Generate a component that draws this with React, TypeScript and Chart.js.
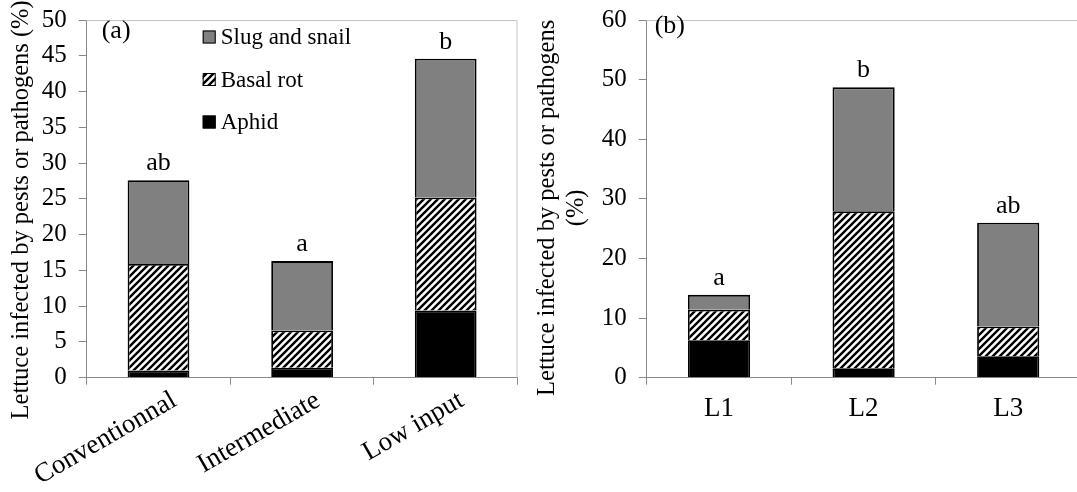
import React, { useEffect, useRef } from "react";
import { Chart, registerables } from "chart.js";

Chart.register(...registerables);

// ---------------- Data ----------------
const categoriesA = ["Conventionnal", "Intermediate", "Low input"];
const aphidA = [1.0, 1.4, 9.4];
const basalRotA = [14.9, 5.2, 15.8];
const slugSnailA = [11.7, 9.7, 19.4];
const lettersA = ["ab", "a", "b"];
const yMaxA = 50;
const yStepA = 5;

const categoriesB = ["L1", "L2", "L3"];
const aphidB = [6.3, 1.6, 3.6];
const basalRotB = [5.1, 26.3, 5.0];
const slugSnailB = [2.5, 20.8, 17.4];
const lettersB = ["a", "b", "ab"];
const yMaxB = 60;
const yStepB = 10;

const seriesNames = ["Aphid", "Basal rot", "Slug and snail"];
const yTitleA = ["Lettuce infected by pests or pathogens (%)"];
const yTitleB = ["Lettuce infected by pests or pathogens", "(%)"];

// ---------------- Styles ----------------
const FONT = "'Liberation Serif', 'Times New Roman', Times, serif";
const AXIS_GRAY = "#898989";
const FRAME_GRAY = "#c4c4c4";
const LEGEND_SIZE = 23;
const TITLE_SIZE = 24.5;
const TICK_SIZE = 25;
const XLABEL_SIZE = 27;
const LETTER_SIZE = 26;

function makeHatch(): CanvasPattern | string {
  const size = 7;
  const c = document.createElement("canvas");
  c.width = size;
  c.height = size;
  const g = c.getContext("2d");
  if (!g) return "#888";
  g.fillStyle = "#ffffff";
  g.fillRect(0, 0, size, size);
  g.strokeStyle = "#000000";
  g.lineWidth = 2.4;
  g.beginPath();
  g.moveTo(-2, size + 2);
  g.lineTo(size + 2, -2);
  g.moveTo(-2, 2);
  g.lineTo(2, -2);
  g.moveTo(size - 2, size + 2);
  g.lineTo(size + 2, size - 2);
  g.stroke();
  return g.createPattern(c, "repeat") || "#888";
}

type PanelOpts = {
  categories: string[];
  aphid: number[];
  basal: number[];
  slug: number[];
  letters: string[];
  yMax: number;
  yStep: number;
  yTitle: string[];
  titleX: number;
  titleGap: number;
  titleDy: number;
  yWidth: number;
  xHeight: number;
  padRight: number;
  rotate: number;
  xPad: number;
  xLabelOffset: number;
  panelLabel: string;
  panelDx: number;
  panelDy: number;
  legend: boolean;
};

function extrasPlugin(p: PanelOpts) {
  return {
    id: "extras",
    afterDatasetsDraw(chart: any) {
      const { ctx, chartArea } = chart;
      ctx.save();
      // plot frame (top & right)
      ctx.strokeStyle = FRAME_GRAY;
      ctx.lineWidth = 1;
      ctx.beginPath();
      ctx.moveTo(chartArea.left, chartArea.top + 0.5);
      ctx.lineTo(chartArea.right - 0.5, chartArea.top + 0.5);
      ctx.lineTo(chartArea.right - 0.5, chartArea.bottom);
      ctx.stroke();

      // significance letters above stacked bars
      const ds = chart.data.datasets;
      const topMeta = chart.getDatasetMeta(ds.length - 1);
      ctx.fillStyle = "#000";
      ctx.font = `${LETTER_SIZE}px ${FONT}`;
      ctx.textAlign = "center";
      ctx.textBaseline = "alphabetic";
      topMeta.data.forEach((el: any, i: number) => {
        ctx.fillText(p.letters[i], el.x, el.y - 10);
      });

      // panel label
      ctx.textAlign = "left";
      ctx.textBaseline = "middle";
      ctx.font = `${LETTER_SIZE}px ${FONT}`;
      ctx.fillText(p.panelLabel, chartArea.left + p.panelDx, chartArea.top + p.panelDy);

      // y axis title (rotated)
      const cy = (chartArea.top + chartArea.bottom) / 2 + p.titleDy;
      ctx.font = `${TITLE_SIZE}px ${FONT}`;
      p.yTitle.forEach((line, i) => {
        ctx.save();
        ctx.translate(p.titleX + i * p.titleGap, cy);
        ctx.rotate(-Math.PI / 2);
        ctx.textAlign = "center";
        ctx.textBaseline = "middle";
        ctx.fillText(line, 0, 0);
        ctx.restore();
      });

      // legend
      if (p.legend) {
        const x0 = chartArea.left + 116;
        for (let k = 0; k < ds.length; k++) {
          const d = ds[ds.length - 1 - k];
          const cyL = chartArea.top + 17 + k * 42.5;
          ctx.fillStyle = d.backgroundColor;
          ctx.fillRect(x0, cyL - 6.5, 13, 13);
          ctx.strokeStyle = "#000";
          ctx.lineWidth = 1;
          ctx.strokeRect(x0 + 0.5, cyL - 6, 12, 12);
          ctx.fillStyle = "#000";
          ctx.font = `${LEGEND_SIZE}px ${FONT}`;
          ctx.textAlign = "left";
          ctx.textBaseline = "middle";
          ctx.fillText(d.label, x0 + 18, cyL + 1);
        }
      }
      ctx.restore();
    },
  };
}

function buildChart(canvas: HTMLCanvasElement, p: PanelOpts) {
  const hatch = makeHatch();
  const common = {
    borderColor: "#000000",
    borderWidth: 1.8,
    categoryPercentage: 1,
    barPercentage: 0.43,
    stack: "s",
  };
  return new Chart(canvas, {
    type: "bar",
    data: {
      labels: p.categories,
      datasets: [
        { ...common, label: seriesNames[0], data: p.aphid, backgroundColor: "#000000" },
        { ...common, label: seriesNames[1], data: p.basal, backgroundColor: hatch as any },
        { ...common, label: seriesNames[2], data: p.slug, backgroundColor: "#808080" },
      ],
    },
    options: {
      responsive: false,
      animation: false,
      events: [],
      layout: {
        padding: { left: 0, top: 20, right: p.padRight, bottom: 0 },
        autoPadding: false,
      },
      plugins: {
        legend: { display: false },
        tooltip: { enabled: false },
        title: { display: false },
      },
      scales: {
        x: {
          stacked: true,
          offset: true,
          grid: {
            display: true,
            offset: true,
            drawOnChartArea: false,
            drawTicks: true,
            tickLength: 7,
            color: AXIS_GRAY,
          },
          border: { display: true, color: AXIS_GRAY, width: 1 },
          ticks: {
            color: "#000",
            font: { family: FONT, size: XLABEL_SIZE },
            minRotation: p.rotate,
            maxRotation: p.rotate,
            autoSkip: false,
            padding: p.xPad,
            labelOffset: p.xLabelOffset,
          },
          afterFit: (s: any) => {
            s.height = p.xHeight;
            s.paddingLeft = 0;
            s.paddingRight = 0;
          },
        },
        y: {
          stacked: true,
          min: 0,
          max: p.yMax,
          grid: {
            display: true,
            drawOnChartArea: false,
            drawTicks: true,
            tickLength: 8,
            color: AXIS_GRAY,
          },
          border: { display: true, color: AXIS_GRAY, width: 1 },
          ticks: {
            stepSize: p.yStep,
            color: "#000",
            font: { family: FONT, size: TICK_SIZE },
            padding: 12,
          },
          title: { display: false },
          afterFit: (s: any) => {
            s.width = p.yWidth;
            s.paddingTop = 0;
            s.paddingBottom = 0;
          },
        },
      },
    },
    plugins: [extrasPlugin(p)],
  } as any);
}

const panelA: PanelOpts = {
  categories: categoriesA,
  aphid: aphidA,
  basal: basalRotA,
  slug: slugSnailA,
  letters: lettersA,
  yMax: yMaxA,
  yStep: yStepA,
  yTitle: yTitleA,
  titleX: 22,
  titleGap: 0,
  titleDy: 11,
  yWidth: 86.7,
  xHeight: 114.3,
  padRight: 22.5,
  rotate: 30,
  xPad: 0,
  xLabelOffset: 16,
  panelLabel: "(a)",
  panelDx: 15,
  panelDy: 11,
  legend: true,
};

const panelB: PanelOpts = {
  categories: categoriesB,
  aphid: aphidB,
  basal: basalRotB,
  slug: slugSnailB,
  letters: lettersB,
  yMax: yMaxB,
  yStep: yStepB,
  yTitle: yTitleB,
  titleX: 18,
  titleGap: 29,
  titleDy: 9,
  yWidth: 116.7,
  xHeight: 114.3,
  padRight: 9.5,
  rotate: 0,
  xPad: 8,
  xLabelOffset: 0,
  panelLabel: "(b)",
  panelDx: 8,
  panelDy: 6,
  legend: false,
};

export default function App() {
  const refA = useRef<HTMLCanvasElement>(null);
  const refB = useRef<HTMLCanvasElement>(null);

  useEffect(() => {
    const charts: Chart[] = [];
    if (refA.current) charts.push(buildChart(refA.current, panelA));
    if (refB.current) charts.push(buildChart(refB.current, panelB));
    return () => {
      charts.forEach((c) => c.destroy());
    };
  }, []);

  return (
    <div
      style={{
        position: "fixed",
        left: 0,
        top: 0,
        width: 1077,
        height: 492,
        overflow: "hidden",
        background: "#ffffff",
      }}
    >
      <canvas
        ref={refA}
        width={540}
        height={492}
        style={{ position: "absolute", left: 0, top: 0, width: 540, height: 492 }}
      />
      <canvas
        ref={refB}
        width={560}
        height={492}
        style={{ position: "absolute", left: 530, top: 0, width: 560, height: 492 }}
      />
    </div>
  );
}
